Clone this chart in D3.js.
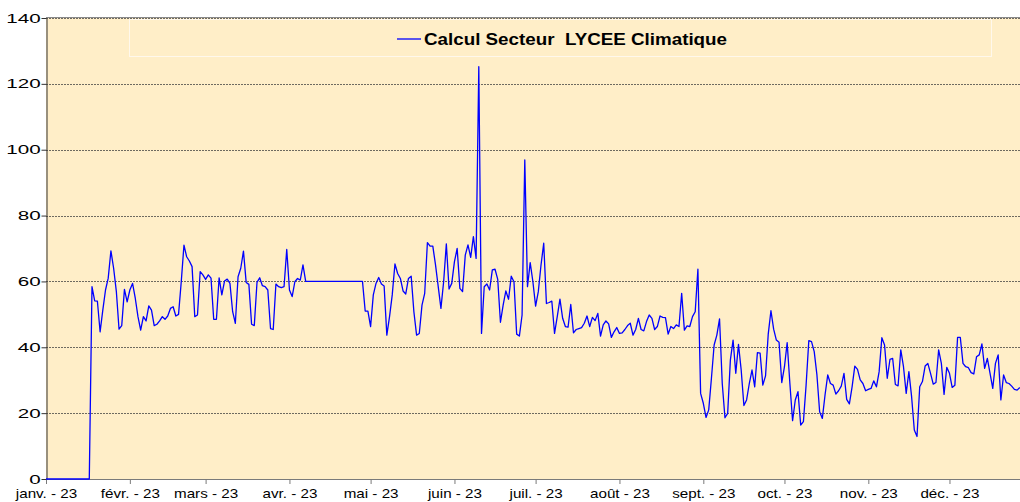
<!DOCTYPE html>
<html>
  <head>
    <meta charset="utf-8">
    <title>Calcul Secteur LYCEE Climatique</title>
    <script src="https://cdn.jsdelivr.net/npm/d3@7"></script>
    <style>
      body { margin: 0; background: #fff; }
      svg { display: block; font-family: "Liberation Sans", Arial, sans-serif; }
    </style>
  </head>
  <body>
    <svg id="chart" width="1020" height="502"></svg>
    <script>
      // daily values, one array per month (2023)
      const janv = [0, 0, 0, 0, 0, 0, 0, 0, 0, 0, 0, 0, 0, 0, 0, 0, 0,
        58.4, 54.1, 54, 44.7, 51.3, 57.4, 61, 69.3, 64, 57, 45.5, 46.6, 57.6, 53.8];
      const fevr = [57.4, 59.4, 54.9, 49.3, 45.2, 49.3, 48, 52.6, 51.3, 46.6, 47, 48, 49.3, 48.5,
        49.5, 51.8, 52.3, 49.5, 50, 59.9, 71, 67.5, 66.2, 64.5, 49.3, 49.8, 63, 62];
      const mars = [60.6, 62, 61, 48.5, 48.5, 61.1, 55.9, 60.1, 60.7, 59.4, 50.8, 47.3, 61.4, 64, 69.2,
        59.7, 59.1, 47, 46.6, 59.7, 61.1, 58.7, 58.4, 57.4, 45.7, 45.4, 59.2, 58.4, 58.1, 58.4, 69.7];
      const avr = [57.4, 55.4, 59.9, 60.9, 60.4, 65, 60, 60, 60, 60, 60, 60, 60, 60, 60,
        60, 60, 60, 60, 60, 60, 60, 60, 60, 60, 60, 60, 60, 51, 51];
      const mai = [46.3, 55.9, 59.4, 61.2, 59.2, 58.6, 43.7, 49.3, 55.9, 65.3, 62.4, 60.9, 57.1, 56.2, 60.9,
        61.6, 50.8, 43.7, 44.2, 52.8, 56.4, 71.8, 70.7, 70.7, 65, 58.4, 51.8, 59.9, 71.4, 57.7, 59.4];
      const juin = [66, 70, 57.9, 56.9, 68, 71.1, 67.3, 73.6, 67, 125.2, 44.2, 58.4, 59.2, 57.4, 63.5,
        63.7, 60.6, 47.6, 52.8, 57.1, 54.6, 61.6, 59.9, 44, 43.4, 49.8, 96.9, 58.4, 65.7, 59.9];
      const juil = [52.5, 56.9, 65, 71.6, 53.3, 53.6, 54, 44.2, 49.3, 54.6, 48.8, 46.3, 46.1, 53, 44.4,
        45.4, 45.7, 46, 47.3, 49.5, 46.3, 49.1, 48.1, 50.3, 43.4, 46.8, 48, 47.1, 43, 44.7, 46];
      const aout = [44.2, 44.4, 45.4, 46.6, 47.3, 43.7, 45.4, 48.8, 45.4, 45, 47.8, 49.8, 48.8, 45.4, 46.3,
        49.5, 49.1, 49, 44, 46.3, 45.7, 46.8, 46.3, 56.4, 45.2, 46.5, 46.3, 49.3, 50.8, 63.7, 26];
      const sept = [23, 18.7, 21, 30.6, 40.7, 43.7, 48.6, 29, 18.6, 19.9, 36.1, 42.2, 32.1, 40.9, 33.1,
        22.3, 24, 29, 33.1, 28, 38.4, 38.2, 28.5, 31.3, 44, 51.1, 45.5, 42.2, 41.5, 29.3];
      const oct = [34.1, 41.4, 29, 17.7, 24, 26.5, 16.4, 17.4, 28.5, 42, 41.7, 38.7, 31.6, 20.4, 18.4,
        25.5, 31.6, 29, 28.5, 25.8, 26.8, 28.2, 32.1, 24.2, 22.8, 28, 34.3, 33.3, 30.1, 29, 26.8];
      const nov = [27.2, 27.5, 29.8, 28, 32.6, 42.9, 40.7, 30.6, 36.3, 36.6, 28.7, 28.3, 39.2, 34.1, 26,
        32.6, 25, 14.9, 12.9, 28, 29.6, 34.3, 35.1, 32.1, 28.8, 29.3, 39.2, 35.1, 25.7, 33.9];
      const dec = [32.1, 27.8, 28.5, 43, 43, 35.1, 34.1, 33.8, 32.3, 31.9, 37.1, 37.7, 41, 33.6, 36.6,
        32.1, 27.5, 35.1, 37.7, 24, 31.6, 29.3, 29, 28.2, 27.2, 27, 27.8];

      const tickLabels = ["janv. - 23", "févr. - 23", "mars - 23", "avr. - 23", "mai - 23", "juin - 23",
        "juil. - 23", "août - 23", "sept. - 23", "oct. - 23", "nov. - 23", "déc. - 23"];
      const yTicks = [0, 20, 40, 60, 80, 100, 120, 140];
      const seriesName = "Calcul Secteur  LYCEE Climatique";

      // one point per day
      const monthly = [janv, fevr, mars, avr, mai, juin, juil, aout, sept, oct, nov, dec];
      let data = [];
      monthly.forEach(function(m, mi) {
        m.forEach(function(v, di) {
          data.push({ date: new Date(2023, mi, di + 1), value: v });
        });
      });
      const monthStarts = tickLabels.map(function(d, i) { return new Date(2023, i, 1); });

      const width = 1020, height = 502;
      const margin = { top: 18, left: 46, bottom: 23 };
      const dayPx = 2.705;
      const chart = d3.select("#chart");

      const x = d3.scaleTime()
        .domain([new Date(2023, 0, 1), new Date(2024, 0, 1)])
        .range([margin.left, margin.left + 365 * dayPx]);
      const y = d3.scaleLinear()
        .domain([0, 140])
        .range([height - margin.bottom, margin.top]);

      // plot area
      chart.append("rect")
        .attr("x", margin.left)
        .attr("y", margin.top)
        .attr("width", width - margin.left)
        .attr("height", y(0) - margin.top)
        .attr("fill", "#ffeec8");
      chart.append("line")
        .attr("x1", margin.left).attr("x2", width)
        .attr("y1", margin.top - 0.5).attr("y2", margin.top - 0.5)
        .attr("stroke", "#8a8a8a");

      // gridlines
      chart.append("g")
        .selectAll("line")
        .data(yTicks.filter(function(d) { return d > 0; }))
        .enter().append("line")
          .attr("x1", margin.left).attr("x2", width)
          .attr("y1", function(d) { return Math.round(y(d)) + 0.5; })
          .attr("y2", function(d) { return Math.round(y(d)) + 0.5; })
          .attr("stroke", "#6e6a60")
          .attr("stroke-dasharray", "2,1");

      // legend box
      chart.append("rect")
        .attr("x", 129.5).attr("y", 19.5)
        .attr("width", 862).attr("height", 37)
        .attr("fill", "none")
        .attr("stroke", "#fff8ec");
      chart.append("line")
        .attr("x1", 397).attr("x2", 421)
        .attr("y1", 39).attr("y2", 39)
        .attr("stroke", "#0000ff")
        .attr("stroke-width", 1.3);
      chart.append("text")
        .attr("x", 424).attr("y", 45)
        .attr("font-size", 17)
        .attr("font-weight", "bold")
        .attr("textLength", 303)
        .attr("lengthAdjust", "spacingAndGlyphs")
        .style("white-space", "pre")
        .text(seriesName);

      // axes
      const xAxis = d3.axisBottom(x)
        .tickValues(monthStarts)
        .tickSize(5)
        .tickSizeOuter(0)
        .tickFormat(function(d, i) { return tickLabels[i]; });
      const xg = chart.append("g")
        .attr("transform", "translate(0," + y(0) + ")")
        .call(xAxis);
      xg.select(".domain").attr("stroke", "#7a7a7a").attr("d", "M" + margin.left + ",0.5H" + width);
      xg.selectAll(".tick line").attr("stroke", "#7a7a7a");
      xg.selectAll(".tick text")
        .attr("y", 19)
        .attr("dy", null)
        .attr("fill", "#000")
        .attr("font-size", 13)
        .attr("transform", "scale(1.17,1)");

      const yAxis = d3.axisLeft(y)
        .tickValues(yTicks)
        .tickSize(5)
        .tickSizeOuter(0)
        .tickFormat(d3.format("d"));
      const yg = chart.append("g")
        .attr("transform", "translate(" + (margin.left + 0.5) + ",0)")
        .call(yAxis);
      yg.select(".domain").attr("stroke", "#333");
      yg.selectAll(".tick line").attr("stroke", "#333");
      yg.selectAll(".tick text")
        .attr("x", -3.5)
        .attr("fill", "#000")
        .attr("font-size", 12.5)
        .attr("transform", "scale(1.65,1)");

      // series
      const line = d3.line()
        .x(function(d) { return x(d.date); })
        .y(function(d) { return y(d.value); });
      chart.append("path")
        .datum(data)
        .attr("d", line)
        .attr("fill", "none")
        .attr("stroke", "#0000ff")
        .attr("stroke-width", 1.3)
        .attr("stroke-linejoin", "round");
    </script>
  </body>
</html>
